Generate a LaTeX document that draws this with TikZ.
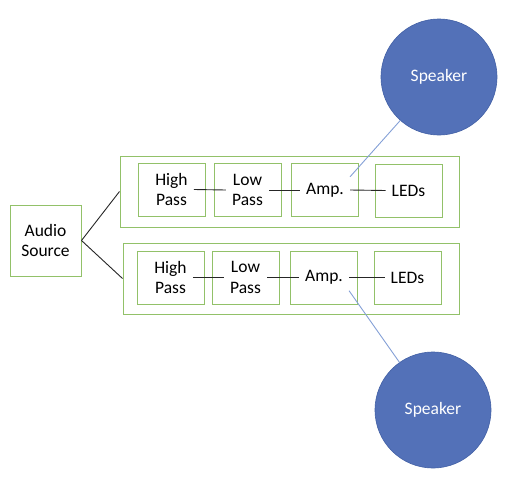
\documentclass[tikz,border=0pt]{standalone}
\usepackage{fontspec}
\setmainfont{Carlito}
\usetikzlibrary{positioning,calc}
\definecolor{boxgreen}{RGB}{146,193,105}
\definecolor{spkblue}{RGB}{83,113,184}
\definecolor{spkedge}{RGB}{66,96,165}
\definecolor{wireblue}{RGB}{132,160,214}
\tikzset{
  blk/.style={draw=boxgreen, line width=1pt, minimum width=67pt, minimum height=53pt},
  chainbox/.style={draw=boxgreen, line width=1pt, minimum height=71pt},
  txt/.style={align=center, inner sep=6pt, font=\fontsize{17.5}{20.5}\selectfont},
  spk/.style={circle, fill=spkblue, draw=spkedge, line width=0.6pt, minimum size=116pt,
    text=white, font=\fontsize{17.5}{20.5}\selectfont},
  wire/.style={draw=black!85, line width=0.9pt},
  spkwire/.style={draw=wireblue, line width=0.9pt}
}
\begin{document}
\begin{tikzpicture}[x=1pt,y=-1pt]
    \useasboundingbox (0,0) rectangle (514,482);
    \node[blk, txt, minimum width=71pt, minimum height=71pt, inner sep=3pt] (src) at (45.5,240.5) {Audio\\Source};

    \node[chainbox, minimum width=339pt] (ch1) at (289.5,191.5) {};
    \node[blk] (hp1b) at (171.5,189.5) {};
    \node[blk] (lp1b) at (247.5,190) {};
    \node[blk] (amp1b) at (325,190) {};
    \node[blk] (led1b) at (408.5,190.5) {};
    \node[txt] (hp1) at (hp1b) {High\\Pass};
    \node[txt] (lp1) at (lp1b) {Low\\Pass};
    \node[txt] (amp1) at (amp1b) {Amp.};
    \node[txt] (led1) at (led1b) {LEDs};
    \draw[wire] (hp1.east) -- (lp1.west);
    \draw[wire] (lp1.east) -- (amp1.west);
    \draw[wire] (amp1.east) -- (led1.west);

    \node[chainbox, minimum width=336pt] (ch2) at (291,278.5) {};
    \node[blk] (hp2b) at (170.5,277.5) {};
    \node[blk] (lp2b) at (245.5,277.5) {};
    \node[blk] (amp2b) at (324,277.5) {};
    \node[blk] (led2b) at (407.5,277.5) {};
    \node[txt] (hp2) at (hp2b) {High\\Pass};
    \node[txt] (lp2) at (lp2b) {Low\\Pass};
    \node[txt] (amp2) at (amp2b) {Amp.};
    \node[txt] (led2) at (led2b) {LEDs};
    \draw[wire] (hp2.east) -- (lp2.west);
    \draw[wire] (lp2.east) -- (amp2.west);
    \draw[wire] (amp2.east) -- (led2.west);

    \draw[wire] (src.east) -- (ch1.west);
    \draw[wire] (src.east) -- (ch2.west);

    \node[spk] (spk1) at (439,77) {Speaker};
    \node[spk] (spk2) at (433,410) {Speaker};
    \draw[spkwire] (amp1.north east) -- (spk1);
    \draw[spkwire] (amp2.south east) -- (spk2);
\end{tikzpicture}
\end{document}
